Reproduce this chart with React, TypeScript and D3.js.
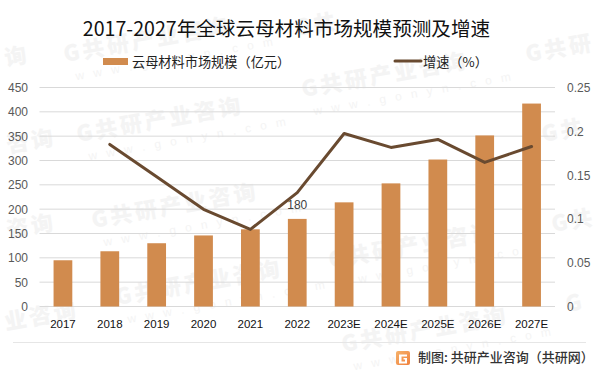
import React from "react";
import * as d3 from "d3";

const W = 599, H = 376;
const categories = ["2017","2018","2019","2020","2021","2022","2023E","2024E","2025E","2026E","2027E"];
const marketSize = [95,113.5,130,146,158.6,180,214,253,302,351.5,417];
const growth: (number|null)[] = [null,0.185,0.148,0.111,0.088,0.13,0.1975,0.1816,0.1907,0.1645,0.1827];
const leftTicks = [0,50,100,150,200,250,300,350,400,450];
const rightTicks = [0,0.05,0.1,0.15,0.2,0.25];
const title = "2017-2027年全球云母材料市场规模预测及增速";
const barLegend = "云母材料市场规模（亿元）";
const lineLegend = "增速（%）";
const footer = "制图: 共研产业咨询（共研网）";
const wmFull = "G共研产业咨询";
const wmUrl = "w w w . g o n y n . c o m";
const wmAnchors: [number,number][] = [[65,62],[78,142],[93,228],[117,305],[303,97],[330,268],[343,352]];
const wmPartial: [number,number,string][] = [[6,66,"询"],[8,153,"咨询"],[8,238,"咨询"],[6,330,"业咨询"],[527,62,"G共研"],[543,142,"G共"],[553,232,"G共"],[567,312,"G"],[296,36,"G共"]];

const font = "'Noto Sans CJK SC','Liberation Sans',sans-serif";
const numFont = "'Liberation Sans','Noto Sans CJK SC',sans-serif";
const wmColor = "#f4f4f4";

export default function App() {
  const x = d3.scaleBand<string>().domain(categories).range([39.5,555]).paddingInner(0.6).paddingOuter(0.3);
  const yL = d3.scaleLinear().domain([0,450]).range([306.5,87.5]);
  const yR = d3.scaleLinear().domain([0,0.25]).range([306.5,87.5]);
  const cx = (c:string)=>(x(c) as number)+x.bandwidth()/2;
  const line = d3.line<number|null>().defined(d=>d!==null).x((_,i)=>cx(categories[i])).y(d=>yR(d as number));
  return (
    <svg width={W} height={H} viewBox={`0 0 ${W} ${H}`} style={{position:"absolute",left:0,top:0,background:"#fff"}}>
      {wmAnchors.map(([a,b],i)=>(
        <g key={i} transform={`translate(${a},${b}) rotate(-10)`} fill={wmColor}>
          <text fontFamily={font} fontWeight={900} fontSize={22} letterSpacing={3}>{wmFull}</text>
          <text x={8} y={20} fontFamily={numFont} fontSize={12} letterSpacing={3}>{wmUrl}</text>
        </g>
      ))}
      {wmPartial.map(([a,b,s],i)=>(
        <text key={i} transform={`translate(${a},${b}) rotate(-10)`} fill={wmColor} fontFamily={font} fontWeight={900} fontSize={22} letterSpacing={3}>{s}</text>
      ))}
      <text x={286.5} y={36} textAnchor="middle" fontFamily={font} fontSize={19.6} fill="#111">{title}</text>
      <rect x={103} y={58} width={25} height={7} fill="#d18b4e"/>
      <text x={132} y={66.5} fontFamily={font} fontSize={13.2} fill="#222">{barLegend}</text>
      <line x1={395} x2={421} y1={61} y2={61} stroke="#694a30" strokeWidth={3} strokeLinecap="round"/>
      <text x={423} y={66.5} fontFamily={font} fontSize={13.2} fill="#222">{lineLegend}</text>
      {leftTicks.map(t=>(
        <g key={t}>
          <line x1={39.5} x2={555} y1={yL(t)} y2={yL(t)} stroke="#d9d9d9" strokeWidth={1}/>
          <text x={28} y={yL(t)+4.5} textAnchor="end" fontFamily={numFont} fontSize={12} fill="#595959">{t}</text>
        </g>
      ))}
      {rightTicks.map(t=>(
        <text key={t} x={567} y={yR(t)+4.5} fontFamily={numFont} fontSize={12} fill="#595959">{t}</text>
      ))}
      {categories.map((c,i)=>(
        <g key={c}>
          <rect x={x(c)} y={yL(marketSize[i])} width={x.bandwidth()} height={yL(0)-yL(marketSize[i])} fill="#d18b4e"/>
          <text x={cx(c)} y={328} textAnchor="middle" fontFamily={numFont} fontSize={11.5} fill="#111">{c}</text>
        </g>
      ))}
      <text x={cx("2022")} y={209} textAnchor="middle" fontFamily={numFont} fontSize={12} fill="#404040">{marketSize[5]}</text>
      <path d={line(growth) as string} fill="none" stroke="#694a30" strokeWidth={3} strokeLinejoin="round" strokeLinecap="round"/>
      <line x1={13} x2={586} y1={342.5} y2={342.5} stroke="#e6e6e6"/>
      <defs>
        <linearGradient id="lg" x1="0" y1="0" x2="1" y2="1">
          <stop offset="0" stopColor="#f6b26b"/><stop offset="1" stopColor="#f0803c"/>
        </linearGradient>
      </defs>
      <rect x={396} y={351} width={14} height={14} rx={2} fill="url(#lg)"/>
      <path d="M399 354.5h8v2h-5.5v5h3.5v-2h-1.5v-1.5h3.5v5.5h-8z" fill="#fff"/>
      <text x={418} y={361.5} fontFamily={font} fontSize={13} fontWeight={500} fill="#333">{footer}</text>
    </svg>
  );
}
